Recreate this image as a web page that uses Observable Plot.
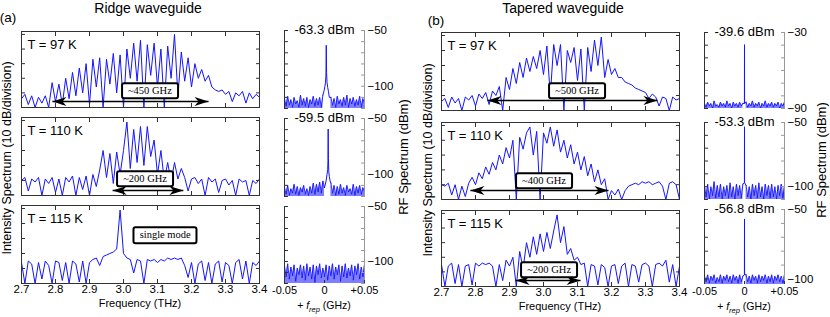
<!DOCTYPE html>
<html><head><meta charset="utf-8">
<script src="https://cdn.jsdelivr.net/npm/d3@7"></script>
<script src="https://cdn.jsdelivr.net/npm/@observablehq/plot@0.6"></script>
<style>
body{margin:0;background:#fff;}
#fig{position:relative;width:830px;height:317px;overflow:hidden;font-family:"Liberation Sans",Arial,sans-serif;color:#000;}
#fig svg{position:absolute;overflow:visible;}
.lbl{position:absolute;white-space:nowrap;line-height:1;}
.rot{transform:translate(-50%,-50%) rotate(-90deg);}
.ctr{transform:translate(-50%,-50%);}
.box{position:absolute;transform:translate(-50%,-50%);background:#fff;border:2px solid #000;border-radius:3px;font-family:"Liberation Serif","Times New Roman",serif;font-size:10.5px;padding:1px 5px;white-space:nowrap;line-height:1.1;}
</style></head><body><div id="fig"></div>
<script>
// ---------- data ----------
const xTicksTHz = [2.7, 2.8, 2.9, 3.0, 3.1, 3.2, 3.3, 3.4];
const yTicksDiv = [10, 20, 30, 40, 50];
const tempLabels = ["T = 97 K", "T = 110 K", "T = 115 K"];
// optical spectra, 2.70 ... 3.40 THz in 0.01 THz steps (dB, relative)
const specA97 = [6,9,2,8,0,7,3,8,0,17, 4,16,2,20,6,24,8,27,10,30, 2,33,14,34,0,33,16,37,10,36, 0,40,20,44,18,46,0,43,22,44, 14,40,0,42,20,50,8,38,18,34, 14,30,20,26,18,22,14,12,11,12, 9,11,4,10,8,11,3,10,6,9, 7];
const specA110 = [10,12,3,11,9,12,0,11,8,12, 2,11,0,12,9,13,0,12,4,13, 0,14,6,17,30,12,28,8,29,14, 30,49,18,44,22,46,20,46,26,37, 14,30,10,22,9,22,11,18,12,3, 11,12,8,11,0,12,9,11,2,10, 11,7,10,0,11,9,10,0,10,8, 11];
const specA115 = [14,0,15,13,0,14,3,15,12,0, 15,14,2,14,0,15,13,1,15,0, 14,16,17,12,18,19,20,21,23,49, 20,17,16,7,16,15,0,16,15,16, 14,16,15,17,16,17,16,17,12,4, 14,0,13,15,2,14,0,13,15,1, 14,12,0,14,16,3,15,0,14,12, 15];
const specB97 = [6,8,2,9,5,8,0,9,7,10, 3,11,8,12,4,13,10,16,0,22, 14,28,18,32,22,35,26,36,28,40, 24,43,10,44,30,44,0,40,32,42, 20,41,0,42,26,47,30,49,22,34, 24,28,22,22,19,18,17,15,14,13, 12,8,11,9,3,9,8,0,9,7, 8];
const specB110 = [10,9,11,3,10,0,9,2,11,15, 10,18,14,22,17,25,20,30,24,35, 28,40,0,42,34,45,49,30,46,0, 45,38,49,36,47,32,40,28,37,24, 32,20,29,16,24,12,20,10,14,0, 6,3,7,0,6,9,10,11,10,12, 11,12,10,11,12,9,0,11,12,10, 0];
const specB115 = [15,0,14,16,2,15,0,14,15,1, 16,14,16,15,16,14,0,15,4,18, 14,20,0,24,12,30,20,34,22,36, 24,37,26,38,49,30,41,22,26,18, 20,15,16,0,15,14,1,15,13,0, 14,15,2,14,16,0,15,14,3,15, 16,14,0,15,16,14,18,3,15,0, 14];
// bandwidth annotations
const bwA = ["~450 GHz", "~200 GHz", "single mode"];
const bwB = ["~500 GHz", "~400 GHz", "~200 GHz"];
// RF spectra: noise floor on a -0.05 ... +0.05 GHz grid (0.002 GHz steps), beat-note peaks separately
const rfA97Noise = [-111,-118,-109,-117,-112,-119,-110,-116,-113,-119, -108,-117,-111,-118,-110,-119,-112,-116,-109,-118, -111,-117,-110,-119,-108,null,null,null,null,-110, -117,-111,-119,-109,-116,-112,-118,-110,-117,-108, -119,-111,-116,-110,-118,-112,-117,-109,-119,-111,-116];
const rfA97PeakX = [-0.002,-0.0005,0.0005,0.0012,0.0018,0.0022,0.0026,0.0032,0.004,0.005,0.006,0.008];
const rfA97PeakY = [-108,-104,-100,-97,-90,-63.3,-88,-97,-101,-105,-110,-110];
const rfA110Noise = [-112,-118,-110,-119,-113,-117,-109,-118,-111,-119, -112,-116,-110,-118,-113,-119,-111,-117,-108,-118, -109,-116,-107,-117,-106,-112,null,null,null,-108, -117,-110,-119,-111,-118,-109,-117,-112,-119,-110, -116,-113,-118,-109,-119,-111,-117,-110,-118,-112,-116];
const rfA110PeakX = [0,0.002,0.0032,0.004,0.0043,0.0046,0.0049,0.0053,0.006,0.007,0.008];
const rfA110PeakY = [-112,-106,-100,-96,-88,-59.5,-86,-97,-102,-106,-108];
const rfA115Noise = [-104,-114,-102,-116,-105,-113,-103,-118,-106,-112, -103,-115,-104,-117,-102,-113,-105,-116,-103,-119, -104,-112,-102,-115,-106,-114,-103,-117,-104,-113, -102,-116,-105,-112,-103,-118,-104,-114,-102,-115, -106,-113,-103,-117,-104,-112,-102,-116,-105,-114,-103];
const rfB97Noise = [-86,-89,-85,-88,-86,-90,-84,-88,-87,-89, -85,-88,-86,-89,-84,-88,-86,-90,-85,-88, -86,-89,-85,-88,-86,null,-85,-89,-86,-88, -84,-89,-86,-88,-85,-90,-86,-88,-84,-89, -86,-88,-85,-89,-86,-88,-85,-90,-86,-88,-85];
const rfB97PeakX = [-0.002,-0.0001,0,0.0001,0.002];
const rfB97PeakY = [-86,-86,-39.6,-86,-85];
const rfB110Noise = [-99,-108,-98,-110,-100,-107,-96,-109,-99,-108, -98,-110,-100,-107,-99,-109,-97,-108,-100,-110, -98,-107,-99,-109,-98,null,-99,-108,-100,-110, -98,-107,-99,-109,-97,-108,-100,-110,-98,-107, -99,-109,-98,-108,-100,-110,-99,-107,-98,-109,-99];
const rfB110PeakX = [-0.002,-0.0001,0,0.0001,0.002];
const rfB110PeakY = [-98,-97,-53.3,-97,-99];
const rfB115Noise = [-98,-102,-97,-103,-98,-101,-97,-103,-99,-102, -97,-103,-98,-101,-97,-102,-98,-103,-97,-101, -98,-103,-97,-102,-98,null,-97,-102,-98,-103, -97,-101,-98,-103,-97,-102,-98,-101,-97,-103, -98,-102,-97,-103,-98,-101,-97,-102,-98,-103,-97];
const rfB115PeakX = [-0.002,-0.0001,0,0.0001,0.002];
const rfB115PeakY = [-98,-97,-56.8,-97,-97];
const rfPowerLabels = ["-63.3 dBm", "-59.5 dBm", "", "-39.6 dBm", "-53.3 dBm", "-56.8 dBm"];
const rfXTicks = [-0.05, 0, 0.05];
const rfXTickLabels = ["-0.05", "0", "+0.05"];

// ---------- drawing ----------
const fig = document.getElementById("fig");
const BLUE = "#1414ff";
const freqGrid = d3.range(71).map(i => +(2.7 + i * 0.01).toFixed(2));
const rfGrid = d3.range(51).map(i => +(-0.05 + i * 0.002).toFixed(3));
const blank = () => "";
const arrowHead = { draw(ctx) { ctx.moveTo(0, 0); ctx.lineTo(-14, -4.5); ctx.lineTo(-10, 0); ctx.lineTo(-14, 4.5); ctx.closePath(); } };

function place(svg, left, top) { svg.style.left = left + "px"; svg.style.top = top + "px"; fig.appendChild(svg); }
function addText(html, x, y, cls, size, extra = "") {
  const d = document.createElement("div");
  d.className = "lbl " + cls; d.innerHTML = html;
  d.style.cssText += `left:${x}px;top:${y}px;font-size:${size}px;${extra}`;
  fig.appendChild(d); return d;
}

function mainPanel(values, o) {
  const data = values.map((v, i) => ({ f: freqGrid[i], v }));
  const marks = [
    Plot.line(data, { x: "f", y: "v", stroke: BLUE, strokeWidth: 1, clip: true }),
    Plot.frame({ stroke: "#333" }),
    Plot.axisX({ anchor: "bottom", ticks: xTicksTHz, tickSize: -4, tickPadding: o.showX ? o.pad : 3, tickFormat: o.showX ? (d => d.toFixed(1)) : blank, label: null, fontSize: 11.5, stroke: "#333" }),
    Plot.axisX({ anchor: "top", ticks: xTicksTHz, tickSize: -4, tickFormat: blank, label: null, stroke: "#333" }),
    Plot.axisY({ anchor: "left", ticks: yTicksDiv, tickSize: -4, tickFormat: blank, label: null, stroke: "#333" }),
    Plot.axisY({ anchor: "right", ticks: yTicksDiv, tickSize: -4, tickFormat: blank, label: null, stroke: "#333" }),
    Plot.text([o.label], { frameAnchor: "top-left", dx: 6, dy: 8, textAnchor: "start", lineAnchor: "top", fontSize: 13 })
  ];
  if (o.arrow) {
    const a = [o.arrow];
    marks.push(
      Plot.link(a, { x1: "x1", x2: "x2", y1: "y", y2: "y", stroke: "#000", strokeWidth: 1.4 }),
      Plot.dot(a, { x: "x1", y: "y", symbol: arrowHead, rotate: 180, r: 5, fill: "#000" }),
      Plot.dot(a, { x: "x2", y: "y", symbol: arrowHead, r: 5, fill: "#000" })
    );
  }
  const p = Plot.plot({
    width: o.w, height: o.h, marginTop: 0, marginRight: 0, marginBottom: 0, marginLeft: 0,
    x: { domain: [2.7, 3.4] }, y: { domain: [0, 52] },
    style: { background: "transparent", overflow: "visible", fontFamily: "Liberation Sans, Arial, sans-serif" },
    marks
  });
  place(p, o.left, o.top);
  if (o.box) {
    const sx = p.scale("x"), sy = p.scale("y");
    const b = document.createElement("div");
    b.className = "box"; b.textContent = o.box.text;
    b.style.left = (o.left + sx.apply(o.box.f)) + "px";
    b.style.top = (o.top + sy.apply(o.box.v)) + "px";
    fig.appendChild(b);
  }
  return p;
}

function rfPanel(noise, px, py, o) {
  const nd = noise.map((v, i) => ({ x: rfGrid[i], v }));
  const marks = [
    Plot.areaY(nd, { x: "x", y1: o.domain[0], y2: "v", fill: BLUE, fillOpacity: 0.55, clip: true }),
    Plot.line(nd, { x: "x", y: "v", stroke: BLUE, strokeWidth: 0.9, clip: true }),
    Plot.ruleX([-0.05], { stroke: "#333" }),
    Plot.ruleX([0.05], { stroke: "#999" }),
    Plot.axisY({ anchor: "left", ticks: o.ticks, tickSize: -4, tickFormat: blank, label: null, stroke: "#333" }),
    Plot.axisY({ anchor: "right", ticks: o.ticks, tickSize: -4, tickPadding: 7, tickFormat: d => o.labels.includes(d) ? "\u2212" + (-d) : "", label: null, stroke: "#999", fontSize: 11.5 })
  ];
  if (px) {
    const pd = px.map((x, i) => ({ x, v: py[i] }));
    marks.splice(2, 0, Plot.line(pd, { x: "x", y: "v", stroke: BLUE, strokeWidth: 1, clip: true }));
  }
  if (o.title) marks.push(Plot.text([o.title], { frameAnchor: "top", dy: -1, lineAnchor: "middle", fontSize: 13 }));
  if (o.showX) marks.push(Plot.axisX({ anchor: "bottom", ticks: rfXTicks, tickSize: -3, tickPadding: o.pad, tickFormat: d => rfXTickLabels[rfXTicks.indexOf(d)], label: null, fontSize: 11, stroke: "#333" }));
  const p = Plot.plot({
    width: o.w, height: o.h, marginTop: 0, marginRight: 0, marginBottom: 0, marginLeft: 0,
    x: o.showX ? { domain: [-0.05, 0.05] } : { domain: [-0.05, 0.05], axis: null },
    y: { domain: o.domain },
    style: { background: "transparent", overflow: "visible", fontFamily: "Liberation Sans, Arial, sans-serif" },
    marks
  });
  place(p, o.left, o.top);
  return p;
}

// panel (a) optical
mainPanel(specA97, { left: 21, top: 31, w: 238, h: 76, label: tempLabels[0], arrow: { x1: 2.791, x2: 3.25, y: 4.1 }, box: { text: bwA[0], f: 3.079, v: 11 } });
mainPanel(specA110, { left: 21, top: 117, w: 238, h: 78, label: tempLabels[1], arrow: { x1: 2.968, x2: 3.176, y: 3.3 }, box: { text: bwA[1], f: 3.065, v: 10.7 } });
mainPanel(specA115, { left: 21, top: 205, w: 238, h: 78, label: tempLabels[2], showX: true, pad: 5, box: { text: bwA[2], f: 3.124, v: 32 } });
// panel (a) RF
const ticksA = [-120, -110, -100, -90, -80, -70, -60, -50];
rfPanel(rfA97Noise, rfA97PeakX, rfA97PeakY, { left: 284, top: 30, w: 80, h: 78, domain: [-120, -50], ticks: ticksA, labels: [-50, -100], title: rfPowerLabels[0] });
rfPanel(rfA110Noise, rfA110PeakX, rfA110PeakY, { left: 284, top: 118, w: 80, h: 78, domain: [-120, -50], ticks: ticksA, labels: [-50, -100], title: rfPowerLabels[1] });
rfPanel(rfA115Noise, null, null, { left: 284, top: 206, w: 80, h: 77, domain: [-120, -50], ticks: ticksA, labels: [-50, -100], showX: true, pad: 6 });
// panel (b) optical
mainPanel(specB97, { left: 441, top: 32, w: 238, h: 78, label: tempLabels[0], arrow: { x1: 2.835, x2: 3.335, y: 6.7 }, box: { text: bwB[0], f: 3.1, v: 12.7 } });
mainPanel(specB110, { left: 441, top: 122, w: 238, h: 77, label: tempLabels[1], arrow: { x1: 2.785, x2: 3.191, y: 6.1 }, box: { text: bwB[1], f: 3.003, v: 12.2 } });
mainPanel(specB115, { left: 441, top: 210, w: 238, h: 76, label: tempLabels[2], showX: true, pad: 5, arrow: { x1: 2.918, x2: 3.109, y: 4.1 }, box: { text: bwB[2], f: 3.018, v: 11 } });
// panel (b) RF
rfPanel(rfB97Noise, rfB97PeakX, rfB97PeakY, { left: 704, top: 32, w: 80, h: 76, domain: [-90, -30], ticks: [-90, -80, -70, -60, -50, -40, -30], labels: [-30, -90], title: rfPowerLabels[3] });
rfPanel(rfB110Noise, rfB110PeakX, rfB110PeakY, { left: 704, top: 122, w: 80, h: 77, domain: [-110, -50], ticks: [-110, -100, -90, -80, -70, -60, -50], labels: [-50, -100], title: rfPowerLabels[4] });
rfPanel(rfB115Noise, rfB115PeakX, rfB115PeakY, { left: 704, top: 209, w: 80, h: 75, domain: [-104, -50], ticks: [-100, -90, -80, -70, -60, -50], labels: [-50, -100], title: rfPowerLabels[5], showX: true, pad: 6 });

// titles and axis labels
addText("Ridge waveguide", 148, 8, "ctr", 14);
addText("Tapered waveguide", 563, 8, "ctr", 14);
addText("(a)", 8, 18, "ctr", 13.5);
addText("(b)", 436, 21, "ctr", 13.5);
addText("Intensity Spectrum (10 dB/division)", 7, 158, "rot", 12.5);
addText("Intensity Spectrum (10 dB/division)", 428, 160, "rot", 12.5);
addText("RF Spectrum (dBm)", 403, 157, "rot", 13);
addText("RF Spectrum (dBm)", 821, 160, "rot", 13);
addText("Frequency (THz)", 140, 303, "ctr", 11);
addText("Frequency (THz)", 560, 306, "ctr", 11);
addText("+ <i>f</i><sub style='font-size:7.5px;font-style:italic'>rep</sub> (GHz)", 324, 307, "ctr", 10.5);
addText("+ <i>f</i><sub style='font-size:7.5px;font-style:italic'>rep</sub> (GHz)", 744, 308, "ctr", 10.5);
</script></body></html>
